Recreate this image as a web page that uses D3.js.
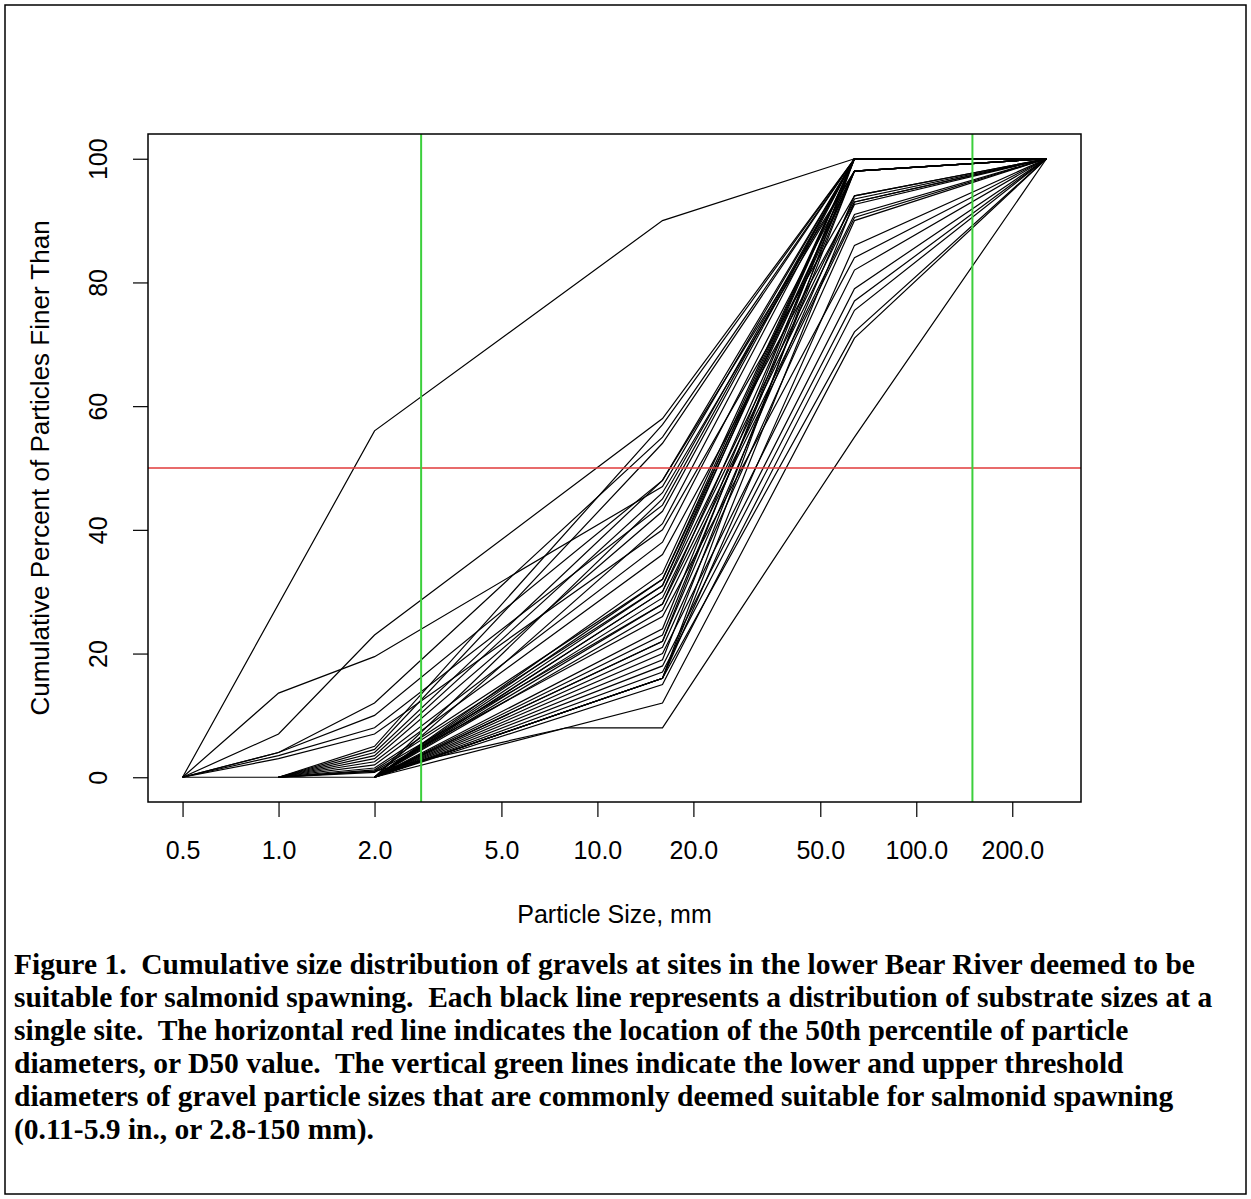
<!DOCTYPE html>
<html lang="en">
  <head>
    <meta charset="utf-8">
    <title>Bear River gravel size distribution</title>
    <script src="https://cdn.jsdelivr.net/npm/d3@7"></script>
    <style>
      body { margin: 0; background: #fff; }
      svg text { font-family: "Liberation Sans", Arial, sans-serif; }
      .caption { font-family: "Liberation Serif", "Times New Roman", serif; font-weight: bold; white-space: pre; }
    </style>
  </head>
  <body>
    <div id="chart"></div>
    <script type="text/javascript">
      // sieve sizes, mm
      let sizes = [0.5, 1, 2, 8, 16, 64, 256];

      // cumulative percent finer, one row per site (null = not measured)
      let sitesFrom05 = [
          [0, null, 56, null, 90, 100, 100],
          [0, 7, 23, null, 58, 100, 100],
          [0, 13.6, 19.5, null, 47, 100, 100],
          [0, 4, 12, null, 55, 100, 100],
          [0, 4, 10, null, 48, 98, 100],
          [0, 3.5, 8, null, 44, 100, 100],
          [0, 3, 7, null, 40, 94, 100],
          [0, 0, 0, null, 16, 86, 100]
      ];

      let sitesFrom1 = [
          [null, 0, 5, null, 57, 100, 100],
          [null, 0, 4.5, null, 54, 100, 100],
          [null, 0, 4, null, 48, 100, 100],
          [null, 0, 3.5, null, 46, 98, 100],
          [null, 0, 3, null, 43, 100, 100],
          [null, 0, 2.5, null, 38, 98, 100],
          [null, 0, 2, null, 36, 93, 100],
          [null, 0, 1.5, null, 32, 100, 100],
          [null, 0, 1.2, null, 31, 98, 100],
          [null, 0, 1, null, 28, 91, 100],
          [null, 0, 0.8, null, 26, 84, 100],
          [null, 0, 1, 8, 8, 55, 100]
      ];

      let sitesFrom2 = [
          [null, null, 0, null, 45, 100, 100],
          [null, null, 0, null, 41, 100, 100],
          [null, null, 0, null, 33, 100, 100],
          [null, null, 0, null, 32, 98, 100],
          [null, null, 0, null, 31, 100, 100],
          [null, null, 0, null, 30, 93.5, 100],
          [null, null, 0, null, 30, 100, 100],
          [null, null, 0, null, 29, 92.6, 100],
          [null, null, 0, null, 28, 98, 100],
          [null, null, 0, null, 27, 90.5, 100],
          [null, null, 0, null, 24, 100, 100],
          [null, null, 0, null, 23, 98, 100],
          [null, null, 0, null, 22, 100, 100],
          [null, null, 0, null, 22, 94, 100],
          [null, null, 0, null, 21, 90, 100],
          [null, null, 0, null, 20, 82, 100],
          [null, null, 0, null, 19, 98, 100],
          [null, null, 0, null, 18, 79, 100],
          [null, null, 0, null, 17, 77, 100],
          [null, null, 0, null, 16, 100, 100],
          [null, null, 0, null, 16, 93, 100],
          [null, null, 0, null, 15, 75.5, 100],
          [null, null, 0, null, 16, 72, 100],
          [null, null, 0, null, 12, 71, 100]
      ];

      let xTicks = [0.5, 1, 2, 5, 10, 20, 50, 100, 200];
      let yTicks = [0, 20, 40, 60, 80, 100];
      let d50 = 50;
      let gravelLimits = [2.8, 150];

      let captionLines = [
          "Figure 1.  Cumulative size distribution of gravels at sites in the lower Bear River deemed to be",
          "suitable for salmonid spawning.  Each black line represents a distribution of substrate sizes at a",
          "single site.  The horizontal red line indicates the location of the 50th percentile of particle",
          "diameters, or D50 value.  The vertical green lines indicate the lower and upper threshold",
          "diameters of gravel particle sizes that are commonly deemed suitable for salmonid spawning",
          "(0.11-5.9 in., or 2.8-150 mm)."
      ];

      let svgWidth = 1251, svgHeight = 1199;
      let plot = { left: 148, right: 1081, top: 134, bottom: 802 };

      let svg = d3.select("#chart")
          .append("svg")
          .attr("width", svgWidth)
          .attr("height", svgHeight);

      // page frame
      svg.append("rect")
          .attr("x", 5).attr("y", 5)
          .attr("width", 1241).attr("height", 1189)
          .attr("fill", "none")
          .attr("stroke", "#000")
          .attr("stroke-width", 1.5);

      // R style: range padded by 4% on each side
      let lx = Math.log10(sizes[sizes.length - 1] / sizes[0]) * 0.04;
      let xScale = d3.scaleLog()
          .domain([sizes[0] / Math.pow(10, lx), sizes[sizes.length - 1] * Math.pow(10, lx)])
          .range([plot.left, plot.right]);

      let yScale = d3.scaleLinear()
          .domain([-4, 104])
          .range([plot.bottom, plot.top]);

      let allSites = sitesFrom05.concat(sitesFrom1, sitesFrom2);

      let line = d3.line()
          .x(d => xScale(d.x))
          .y(d => yScale(d.y));

      svg.append("g")
          .selectAll("path")
          .data(allSites)
          .enter().append("path")
          .attr("fill", "none")
          .attr("stroke", "#000")
          .attr("stroke-width", 1.2)
          .attr("d", row => line(row
              .map((v, i) => ({x: sizes[i], y: v}))
              .filter(d => d.y != null)));

      // reference lines
      svg.append("line")
          .attr("x1", plot.left).attr("x2", plot.right)
          .attr("y1", yScale(d50)).attr("y2", yScale(d50))
          .attr("stroke", "#e03a3a")
          .attr("stroke-width", 1.5);

      svg.selectAll("line.limit")
          .data(gravelLimits)
          .enter().append("line")
          .attr("class", "limit")
          .attr("x1", d => xScale(d)).attr("x2", d => xScale(d))
          .attr("y1", plot.top).attr("y2", plot.bottom)
          .attr("stroke", "#3ccf3c")
          .attr("stroke-width", 2);

      // box
      svg.append("rect")
          .attr("x", plot.left).attr("y", plot.top)
          .attr("width", plot.right - plot.left)
          .attr("height", plot.bottom - plot.top)
          .attr("fill", "none")
          .attr("stroke", "#000")
          .attr("stroke-width", 1.5);

      let xAxis = d3.axisBottom(xScale)
          .tickValues(xTicks)
          .tickFormat(d3.format(".1f"))
          .tickSize(15)
          .tickPadding(24);

      let gx = svg.append("g")
          .attr("transform", `translate(0, ${plot.bottom})`)
          .call(xAxis);
      gx.select(".domain").remove();
      gx.selectAll("line").attr("stroke", "#000").attr("stroke-width", 1.2);
      gx.selectAll("text")
          .attr("font-size", 25)
          .attr("fill", "#000");

      let yAxis = d3.axisLeft(yScale)
          .tickValues(yTicks)
          .tickSize(15)
          .tickPadding(0);

      let gy = svg.append("g")
          .attr("transform", `translate(${plot.left}, 0)`)
          .call(yAxis);
      gy.select(".domain").remove();
      gy.selectAll("line").attr("stroke", "#000").attr("stroke-width", 1.2);
      gy.selectAll("text")
          .attr("font-size", 25)
          .attr("fill", "#000")
          .attr("text-anchor", "middle")
          .attr("dy", null)
          .attr("x", null)
          .attr("transform", "translate(-50, 0) rotate(-90)")
          .attr("dominant-baseline", "central");

      svg.append("text")
          .attr("x", (plot.left + plot.right) / 2)
          .attr("y", 923)
          .attr("text-anchor", "middle")
          .attr("font-size", 25)
          .text("Particle Size, mm");

      svg.append("text")
          .attr("transform", `translate(49, ${(plot.top + plot.bottom) / 2}) rotate(-90)`)
          .attr("text-anchor", "middle")
          .attr("font-size", 26)
          .text("Cumulative Percent of Particles Finer Than");

      svg.append("g")
          .selectAll("text")
          .data(captionLines)
          .enter().append("text")
          .attr("class", "caption")
          .attr("x", 14)
          .attr("y", (d, i) => 974 + i * 33)
          .attr("font-size", 29.5)
          .text(d => d);
    </script>
  </body>
</html>
